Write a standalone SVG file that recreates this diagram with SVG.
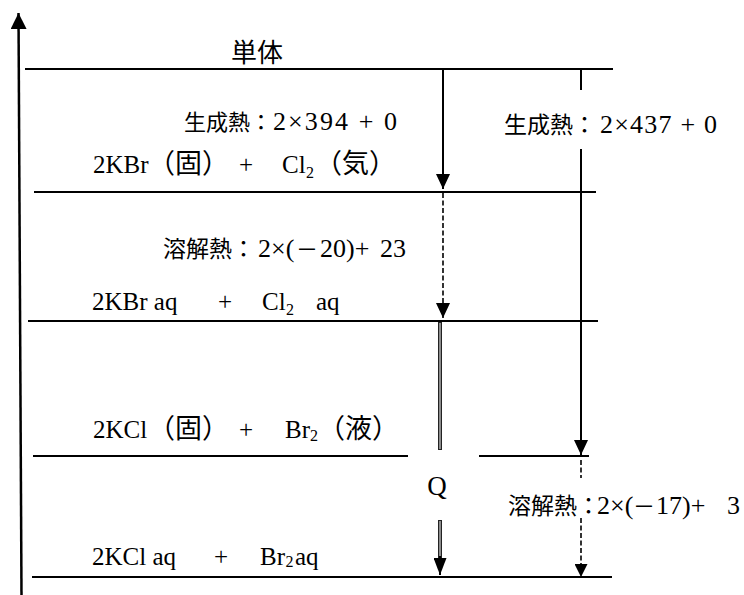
<svg xmlns="http://www.w3.org/2000/svg" width="744" height="595" viewBox="0 0 744 595">
<style>
  .lv{stroke:#000;stroke-width:2;fill:none}
  .t{font-family:"Liberation Serif",serif;font-size:25px;fill:#000}
  .sub{font-family:"Liberation Serif",serif;font-size:16px;fill:#000}
  .cj{font-family:"Noto Sans CJK JP",sans-serif;font-size:27px;fill:#000}
  .jk{font-family:"Noto Sans CJK JP",sans-serif;font-size:23px;fill:#000}
  .ln{font-family:"Liberation Serif",serif;font-size:26px;fill:#000}
  .ar{stroke:#000;stroke-width:2;fill:none}
  .da{stroke:#000;stroke-width:1.6;fill:none;stroke-dasharray:5 2.5}
  .dbo{stroke:#222;stroke-width:4;fill:none}
  .dbi{stroke:#bbb;stroke-width:1.4;fill:none}
</style>
<defs>
  <marker id="ah" viewBox="0 0 15 14" refX="15" refY="7" markerWidth="15" markerHeight="14" markerUnits="userSpaceOnUse" orient="auto">
    <path d="M0,0 L15,7 L0,14 z" fill="#000"/>
  </marker>
  <marker id="ahs" viewBox="0 0 13 13" refX="13" refY="6.5" markerWidth="13" markerHeight="13" markerUnits="userSpaceOnUse" orient="auto">
    <path d="M0,0 L13,6.5 L0,13 z" fill="#000"/>
  </marker>
  <marker id="ahq" viewBox="0 0 17 13" refX="17" refY="6.5" markerWidth="17" markerHeight="13" markerUnits="userSpaceOnUse" orient="auto">
    <path d="M0,0 L17,6.5 L0,13 z" fill="#000"/>
  </marker>
  <marker id="aha" viewBox="0 0 16 16" refX="16" refY="8" markerWidth="16" markerHeight="16" markerUnits="userSpaceOnUse" orient="auto">
    <path d="M0,0 L16,8 L0,16 z" fill="#000"/>
  </marker>
</defs>
<rect width="744" height="595" fill="#fff"/>

<g id="axis">
  <line x1="21.5" y1="595" x2="18.5" y2="13" stroke="#000" stroke-width="2.5" marker-end="url(#aha)"/>
</g>

<g id="tantai">
  <line class="lv" x1="25" y1="69" x2="613" y2="69"/>
  <text class="cj" x="231" y="62" style="font-size:26px">単体</text>
</g>

<g id="kbr-solid">
  <line class="lv" x1="34" y1="192" x2="596" y2="192"/>
  <text class="t" x="93" y="173">2KBr</text>
  <text class="cj" x="148" y="173">（固）</text>
  <text class="t" x="246" y="173" text-anchor="middle">+</text>
  <text class="t" x="282" y="173">Cl</text>
  <text class="sub" x="306" y="178">2</text>
  <text class="cj" x="315" y="173">（気）</text>
</g>

<g id="kbr-aq">
  <line class="lv" x1="28" y1="321" x2="598" y2="321"/>
  <text class="t" x="92" y="310">2KBr aq</text>
  <text class="t" x="225" y="310" text-anchor="middle">+</text>
  <text class="t" x="262" y="310">Cl</text>
  <text class="sub" x="286" y="315">2</text>
  <text class="t" x="316" y="310">aq</text>
</g>

<g id="kcl-solid">
  <line class="lv" x1="33" y1="456" x2="408" y2="456"/>
  <line class="lv" x1="479" y1="456" x2="589" y2="456"/>
  <text class="t" x="93" y="438">2KCl</text>
  <text class="cj" x="148" y="438">（固）</text>
  <text class="t" x="246" y="438" text-anchor="middle">+</text>
  <text class="t" x="285" y="438">Br</text>
  <text class="sub" x="310" y="441">2</text>
  <text class="cj" x="318" y="438">（液）</text>
</g>

<g id="kcl-aq">
  <line class="lv" x1="32" y1="577" x2="612" y2="577"/>
  <text class="t" x="92" y="565">2KCl aq</text>
  <text class="t" x="221" y="565" text-anchor="middle">+</text>
  <text class="t" x="260" y="565">Br</text>
  <text class="sub" x="285.5" y="567">2</text>
  <text class="t" x="295" y="565">aq</text>
</g>

<g id="connectors">
  <line class="ar" x1="443" y1="69" x2="443" y2="189" marker-end="url(#ah)"/>
  <line class="da" x1="443" y1="193" x2="443" y2="318" marker-end="url(#ah)"/>
  <line class="dbo" x1="440" y1="322" x2="440" y2="450"/>
  <line class="dbi" x1="440" y1="323" x2="440" y2="449"/>
  <line class="dbo" x1="440" y1="520" x2="440" y2="558"/>
  <line class="dbi" x1="440" y1="521" x2="440" y2="558"/>
  <line class="ar" x1="440" y1="556" x2="440" y2="575" marker-end="url(#ahq)"/>
  <line class="ar" x1="581" y1="69" x2="581" y2="90"/>
  <line class="ar" x1="581" y1="149" x2="581" y2="455" marker-end="url(#ah)"/>
  <line class="da" x1="581" y1="460" x2="581" y2="478"/>
  <line class="da" x1="581" y1="518" x2="581" y2="577" marker-end="url(#ahs)"/>
</g>

<g id="labels">
  <g id="lbl-form-kbr">
    <text class="jk" x="184" y="130" style="font-size:22px">生成熱：</text>
    <text class="ln" x="273" y="130" textLength="124" lengthAdjust="spacing">2×394 + 0</text>
  </g>
  <g id="lbl-form-kcl">
    <text class="jk" x="504" y="133">生成熱：</text>
    <text class="ln" x="600" y="133" textLength="117" lengthAdjust="spacing">2×437 + 0</text>
  </g>
  <g id="lbl-sol-kbr">
    <text class="jk" x="163" y="257">溶解熱：</text>
    <text class="ln" x="258" y="257">2×(</text>
    <text class="jk" x="296" y="257" style="font-size:22px">－</text>
    <text class="ln" x="320" y="257">20)+</text>
    <text class="ln" x="380" y="257">23</text>
  </g>
  <g id="lbl-sol-kcl">
    <text class="jk" x="508" y="514">溶解熱：</text>
    <text class="ln" x="597" y="514">2×(</text>
    <text class="jk" x="633" y="514" style="font-size:22px">－</text>
    <text class="ln" x="656" y="514">17)+</text>
    <text class="ln" x="727" y="514">3</text>
  </g>
  <text class="ln" x="437" y="495" text-anchor="middle" style="font-size:27px">Q</text>
</g>
</svg>
